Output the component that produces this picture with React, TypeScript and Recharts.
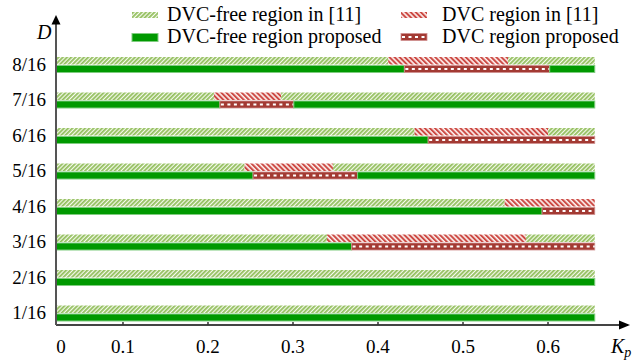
import React from "react";
import { BarChart, Bar, XAxis, YAxis } from "recharts";

// D rows, top to bottom
const rows = ["8/16", "7/16", "6/16", "5/16", "4/16", "3/16", "2/16", "1/16"];
const kpEnd = 0.655;

// DVC region in [11]: start / end of Kp (null = no DVC region)
const refDvcStart = [0.412, 0.207, 0.443, 0.243, 0.549, 0.34, null, null];
const refDvcEnd = [0.553, 0.286, 0.6, 0.347, 0.655, 0.574, null, null];

// DVC region proposed
const propDvcStart = [0.431, 0.214, 0.459, 0.253, 0.593, 0.369, null, null];
const propDvcEnd = [0.602, 0.301, 0.655, 0.376, 0.655, 0.655, null, null];

const xTicks = [0.0212, 0.1, 0.2, 0.3, 0.4, 0.5, 0.6];

const legendItems = [
  { name: "DVC-free region in [11]", kind: "greenHatch" },
  { name: "DVC region in [11]", kind: "redHatch" },
  { name: "DVC-free region proposed", kind: "green" },
  { name: "DVC region proposed", kind: "darkRed" },
];

const split = (s: number | null, e: number | null) => ({
  free1: s == null ? kpEnd : s,
  dvc: s == null || e == null ? 0 : e - s,
  free2: e == null ? 0 : kpEnd - e,
});

const data = rows.map((d, i) => {
  const r = split(refDvcStart[i], refDvcEnd[i]);
  const p = split(propDvcStart[i], propDvcEnd[i]);
  return {
    d,
    refFree1: r.free1,
    refDvc: r.dvc,
    refFree2: r.free2,
    propFree1: p.free1,
    propDvc: p.dvc,
    propFree2: p.free2,
  };
});

const GREEN = "#009900";
const DARK_RED = "#a33a33";
const FONT = "Liberation Serif";
const serif = { fontFamily: FONT };

const SolidShape = (props: any) => {
  const { x, y, width, height } = props;
  if (!width || width <= 0) return null;
  return (
    <rect x={x} y={y + 0.5} width={width} height={height - 1} fill={GREEN} stroke="#7fcc7f" strokeWidth={1} />
  );
};

const HatchShape = (id: string) => (props: any) => {
  const { x, y, width, height } = props;
  if (!width || width <= 0) return null;
  return <rect x={x} y={y} width={width} height={height - 0.5} fill={`url(#${id})`} />;
};

const DvcPropShape = (props: any) => {
  const { x, y, width, height } = props;
  if (!width || width <= 0) return null;
  return (
    <g>
      <rect x={x} y={y + 0.5} width={width} height={height - 1} fill={DARK_RED} stroke="#d09090" strokeWidth={0.8} />
      <line
        x1={x + 1}
        x2={x + width}
        y1={y + height / 2}
        y2={y + height / 2}
        stroke="#ffffff"
        strokeWidth={1.8}
        strokeDasharray="3 3.5"
      />
    </g>
  );
};

const XTick = (props: any) => {
  const { x, y, payload } = props;
  const isZero = payload.value < 0.05;
  return (
    <g>
      {!isZero && <line x1={x} x2={x} y1={y - 3} y2={y} stroke="#333" strokeWidth={1.5} />}
      <text x={isZero ? x + 5 : x} y={y + 28} textAnchor="middle" style={serif} fontSize={19} fill="#000">
        {isZero ? "0" : String(payload.value)}
      </text>
    </g>
  );
};

const YTick = (props: any) => {
  const { x, y, payload } = props;
  return (
    <text x={x} y={y + 6} textAnchor="end" style={serif} fontSize={19} fill="#000">
      {payload.value}
    </text>
  );
};

const Swatch = ({ kind, x, y }: { kind: string; x: number; y: number }) => {
  if (kind === "greenHatch") return <rect x={x} y={y - 3} width={26} height={6} fill="url(#hatchGreen)" />;
  if (kind === "redHatch") return <rect x={x} y={y - 3} width={26} height={6} fill="url(#hatchRed)" />;
  if (kind === "green") return <SolidShape x={x} y={y - 4} width={26} height={9} />;
  return <DvcPropShape x={x} y={y - 4} width={26} height={8} />;
};

export default function App() {
  const legendPos = [
    { sx: 132, tx: 167, cy: 15, by: 21 },
    { sx: 401, tx: 442, cy: 15, by: 21 },
    { sx: 132, tx: 167, cy: 37, by: 43 },
    { sx: 401, tx: 442, cy: 37, by: 43 },
  ];
  return (
    <div
      style={{ position: "absolute", left: 0, top: 0, width: 638, height: 363, background: "#fff", fontFamily: FONT }}
    >
      <svg width={0} height={0} style={{ position: "absolute" }}>
        <defs>
          <pattern id="hatchGreen" patternUnits="userSpaceOnUse" width={3} height={3} patternTransform="rotate(45)">
            <rect width={3} height={3} fill="#f6faef" />
            <rect width={1.8} height={3} fill="#93bf5e" />
          </pattern>
          <pattern id="hatchRed" patternUnits="userSpaceOnUse" width={3.6} height={3.6} patternTransform="rotate(-45)">
            <rect width={3.6} height={3.6} fill="#fcf1ef" />
            <rect width={2} height={3.6} fill="#cc4a44" />
          </pattern>
        </defs>
      </svg>
      <BarChart
        width={638}
        height={363}
        data={data}
        layout="vertical"
        margin={{ top: 47, right: 10, bottom: 8, left: 8 }}
        barSize={8}
        barGap={0}
      >
        <XAxis
          type="number"
          domain={[0.0212, 0.6941]}
          allowDataOverflow
          ticks={xTicks}
          tick={<XTick />}
          tickLine={false}
          tickSize={0}
          tickMargin={0}
          height={30}
          axisLine={{ stroke: "#444", strokeWidth: 2 }}
        />
        <YAxis
          type="category"
          dataKey="d"
          width={48}
          padding={{ top: 0, bottom: -6 }}
          tickLine={false}
          tickMargin={4}
          axisLine={{ stroke: "#555", strokeWidth: 2 }}
          tick={<YTick />}
        />
        <Bar dataKey="refFree1" stackId="ref" isAnimationActive={false} shape={HatchShape("hatchGreen")} />
        <Bar dataKey="refDvc" stackId="ref" isAnimationActive={false} shape={HatchShape("hatchRed")} />
        <Bar dataKey="refFree2" stackId="ref" isAnimationActive={false} shape={HatchShape("hatchGreen")} />
        <Bar dataKey="propFree1" stackId="prop" isAnimationActive={false} shape={SolidShape} />
        <Bar dataKey="propDvc" stackId="prop" isAnimationActive={false} shape={DvcPropShape} />
        <Bar dataKey="propFree2" stackId="prop" isAnimationActive={false} shape={SolidShape} />
      </BarChart>
      <svg width={638} height={363} style={{ position: "absolute", left: 0, top: 0, pointerEvents: "none" }}>
        {/* axis arrows */}
        <line x1={56} x2={56} y1={48} y2={22} stroke="#555" strokeWidth={2} />
        <polygon points="56,15 51.5,24.5 60.5,24.5" fill="#000" />
        <polygon points="630,325 619,320.5 619,329.5" fill="#000" />
        <text x={37} y={39} style={serif} fontSize={20} fontStyle="italic">D</text>
        <text x={611} y={353} style={serif} fontSize={20} fontStyle="italic">
          K<tspan fontSize={14} dy={4}>p</tspan>
        </text>
        {legendItems.map((it, i) => (
          <g key={it.name}>
            <Swatch kind={it.kind} x={legendPos[i].sx} y={legendPos[i].cy} />
            <text x={legendPos[i].tx} y={legendPos[i].by} style={serif} fontSize={20} fill="#000">
              {it.name}
            </text>
          </g>
        ))}
      </svg>
    </div>
  );
}
